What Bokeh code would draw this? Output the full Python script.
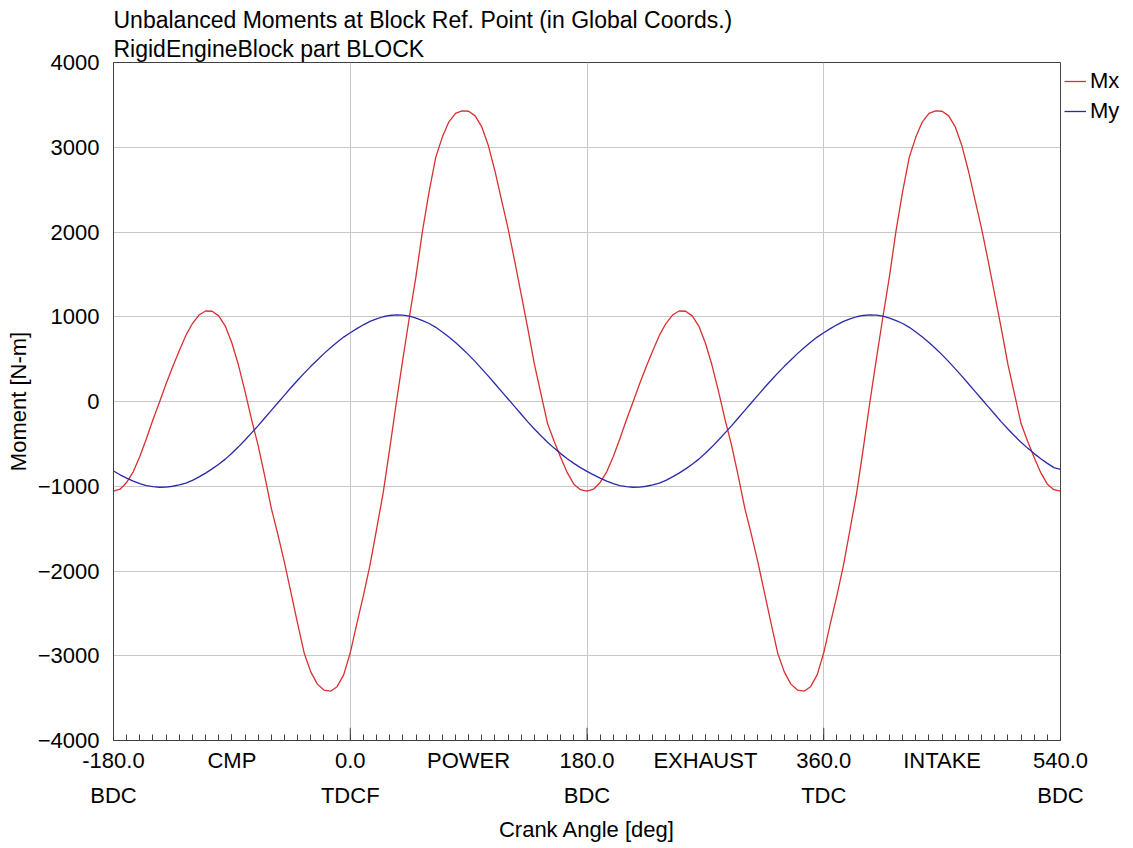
from bokeh.plotting import figure
from bokeh.models import Range1d, FixedTicker, Legend, LegendItem
from bokeh.embed import file_html
from bokeh.resources import INLINE

# Crank angle samples [deg]
angle = list(range(-180, 545, 5))

# Mx [N-m] (-180 .. 540 every 5 deg)
mx = [
    -1058, -1035, -955, -830, -650, -440, -215, -5, 210, 410,
    600, 780, 920, 1020, 1068, 1065, 1010, 890, 690, 430,
    120, -215, -520, -880, -1260, -1570, -1900, -2260, -2620, -2970,
    -3190, -3335, -3405, -3418, -3365, -3225, -2965, -2620, -2290, -1930,
    -1510, -1080, -560, -15, 500, 1000, 1480, 2020, 2480, 2880,
    3120, 3300, 3400, 3430, 3425, 3370, 3240, 3020, 2720, 2380,
    2040, 1660, 1260, 860, 440, 90, -260, -470, -660, -840,
    -975, -1040, -1058,
    -1035, -955, -830, -650, -440, -215, -5, 210, 410,
    600, 780, 920, 1020, 1068, 1065, 1010, 890, 690, 430,
    120, -215, -520, -880, -1260, -1570, -1900, -2260, -2620, -2970,
    -3190, -3335, -3405, -3418, -3365, -3225, -2965, -2620, -2290, -1930,
    -1510, -1080, -560, -15, 500, 1000, 1480, 2020, 2480, 2880,
    3120, 3300, 3400, 3430, 3425, 3370, 3240, 3020, 2720, 2380,
    2040, 1660, 1260, 860, 440, 90, -260, -470, -660, -840,
    -975, -1040, -1058,
]

# My [N-m] (-180 .. 540 every 5 deg)
my = [
    -820, -865, -905, -940, -970, -992, -1005, -1012, -1010, -1000,
    -985, -962, -930, -890, -845, -795, -740, -680, -610, -535,
    -455, -370, -285, -195, -105, -15, 75, 165, 250, 335,
    415, 490, 565, 635, 700, 760, 812, 860, 905, 945,
    975, 1000, 1015, 1022, 1020, 1008, 985, 955, 920, 875,
    820, 760, 695, 625, 550, 470, 385, 300, 210, 120,
    30, -60, -150, -240, -325, -405, -480, -550, -615, -675,
    -730, -780, -825,
    -865, -905, -940, -970, -992, -1005, -1012, -1010, -1000,
    -985, -962, -930, -890, -845, -795, -740, -680, -610, -535,
    -455, -370, -285, -195, -105, -15, 75, 165, 250, 335,
    415, 490, 565, 635, 700, 760, 812, 860, 905, 945,
    975, 1000, 1015, 1022, 1020, 1008, 985, 955, 920, 875,
    820, 760, 695, 625, 550, 470, 385, 300, 210, 120,
    30, -60, -150, -240, -325, -405, -480, -550, -615, -675,
    -730, -780, -800,
]

# Axis ticks and labels
x_tick_pos = [-180, -90, 0, 90, 180, 270, 360, 450, 540]
x_tick_labels = ["-180.0\nBDC", "CMP", "0.0\nTDCF", "POWER", "180.0\nBDC",
                 "EXHAUST", "360.0\nTDC", "INTAKE", "540.0\nBDC"]
x_grid_pos = [0, 180, 360]
x_minor = list(range(-180, 541, 10))
y_ticks = [-4000, -3000, -2000, -1000, 0, 1000, 2000, 3000, 4000]
y_lo, y_hi = -4000, 4000

title_text = ("Unbalanced Moments at Block Ref. Point (in Global Coords.)\n"
              "RigidEngineBlock part BLOCK")

FONT = "Liberation Sans"
FS = "22px"
DARK = "#404040"

p = figure(frame_width=947, frame_height=678,
           x_range=Range1d(-180, 540), y_range=Range1d(y_lo, y_hi),
           output_backend="svg", toolbar_location=None,
           min_border_left=113, min_border_right=73,
           min_border_top=62, min_border_bottom=108,
           background_fill_color="white", border_fill_color="white")

p.outline_line_color = DARK
p.outline_line_width = 1

# Title
p.title.text = title_text
p.title.align = "left"
p.title.text_font = FONT
p.title.text_font_size = "23px"
p.title.text_font_style = "normal"
p.title.text_color = "black"
p.title.standoff = 0
p.title.text_line_height = 1.15

# X axis
xa = p.xaxis[0]
xa.ticker = FixedTicker(ticks=x_tick_pos, minor_ticks=x_minor)
xa.major_label_overrides = dict(zip(x_tick_pos, x_tick_labels))
xa.major_label_text_font = FONT
xa.major_label_text_font_size = FS
xa.major_label_text_color = "black"
xa.major_label_text_line_height = 1.4
xa.major_label_standoff = 7
xa.major_tick_in = 6
xa.major_tick_out = 0
xa.minor_tick_in = 6
xa.minor_tick_out = 0
xa.major_tick_line_color = DARK
xa.minor_tick_line_color = DARK
xa.axis_line_color = DARK
xa.axis_label = "Crank Angle [deg]"
xa.axis_label_text_font = FONT
xa.axis_label_text_font_size = FS
xa.axis_label_text_font_style = "normal"
xa.axis_label_text_color = "black"
xa.axis_label_standoff = 6

# Y axis
ya = p.yaxis[0]
ya.ticker = FixedTicker(ticks=y_ticks)
ya.major_label_text_font = FONT
ya.major_label_text_font_size = FS
ya.major_label_text_color = "black"
ya.major_label_standoff = 14
ya.major_tick_in = 0
ya.major_tick_out = 0
ya.minor_tick_in = 0
ya.minor_tick_out = 0
ya.axis_line_color = DARK
ya.axis_label = "Moment [N-m]"
ya.axis_label_text_font = FONT
ya.axis_label_text_font_size = FS
ya.axis_label_text_font_style = "normal"
ya.axis_label_text_color = "black"
ya.axis_label_standoff = 4

# Grids
p.xgrid.ticker = FixedTicker(ticks=x_grid_pos)
p.xgrid.grid_line_color = "#c8c8c8"
p.ygrid.grid_line_color = "#c8c8c8"

# longer tick marks at TDC/BDC positions (inside the bottom axis)
p.segment(x0=x_grid_pos, y0=[y_lo] * len(x_grid_pos),
          x1=x_grid_pos, y1=[y_lo + 150] * len(x_grid_pos),
          line_color=DARK, line_width=1)

r_mx = p.line(angle, mx, line_color="#d83030", line_width=1.3)
r_my = p.line(angle, my, line_color="#2a2aa8", line_width=1.3)

legend = Legend(items=[LegendItem(label="Mx", renderers=[r_mx]),
                       LegendItem(label="My", renderers=[r_my])],
                location="top_left")
legend.margin = 4
legend.padding = 2
legend.spacing = 0
legend.glyph_width = 22
legend.glyph_height = 30
legend.label_height = 30
legend.label_standoff = 4
legend.label_text_font = FONT
legend.label_text_font_size = FS
legend.label_text_color = "black"
legend.border_line_color = None
legend.background_fill_alpha = 0
p.add_layout(legend, "right")

open("out.html", "w").write(file_html(p, INLINE))
